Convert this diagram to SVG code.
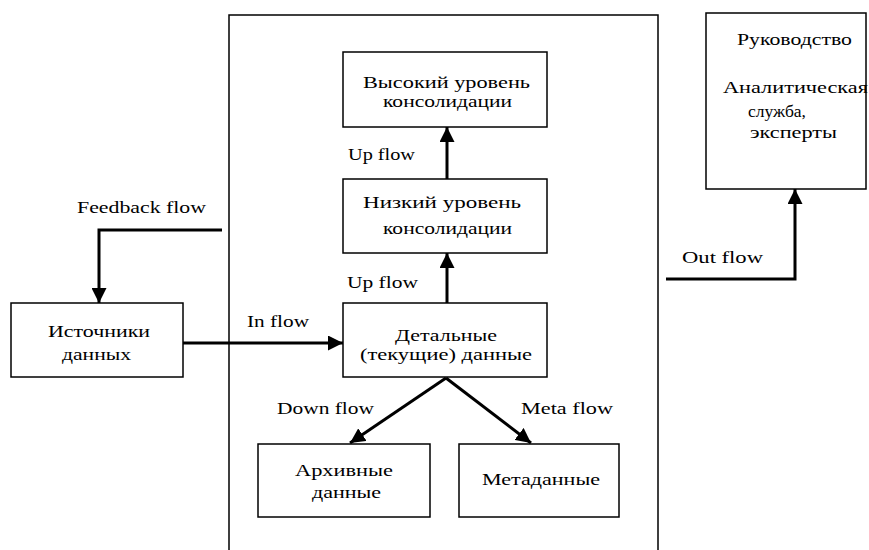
<svg xmlns="http://www.w3.org/2000/svg" width="869" height="550" viewBox="0 0 869 550">
<style>
.box{fill:#fff;stroke:#000;stroke-width:1.5}
.t{font-family:"Liberation Serif","Times New Roman",serif;font-size:16px;fill:#000}
.c{stroke:#000;stroke-width:3;fill:none}
</style>
<defs>
<marker id="ah" viewBox="0 0 10 10" refX="10" refY="5" markerWidth="5" markerHeight="5" orient="auto" markerUnits="strokeWidth">
<path d="M0,0 L10,5 L0,10 z" fill="#000"/>
</marker>
</defs>
<rect width="869" height="550" fill="#fff"/>
<g id="container">
<path d="M229,550 V15 H658 V550" fill="none" stroke="#000" stroke-width="1.5"/>
</g>
<g id="connectors">
<path class="c" d="M222,230 H99 V303" marker-end="url(#ah)"/>
<path class="c" d="M183,343 H343" marker-end="url(#ah)"/>
<path class="c" d="M447,303 V253" marker-end="url(#ah)"/>
<path class="c" d="M447,179 V127" marker-end="url(#ah)"/>
<path class="c" d="M446,378 L350,443" marker-end="url(#ah)"/>
<path class="c" d="M446,378 L531,443" marker-end="url(#ah)"/>
<path class="c" d="M666,279 H795 V189" marker-end="url(#ah)"/>
<text class="t" x="77" y="213" textLength="129" lengthAdjust="spacingAndGlyphs">Feedback flow</text>
<text class="t" x="247" y="327" textLength="62" lengthAdjust="spacingAndGlyphs">In flow</text>
<text class="t" x="348" y="160" textLength="67" lengthAdjust="spacingAndGlyphs">Up flow</text>
<text class="t" x="347" y="288" textLength="71" lengthAdjust="spacingAndGlyphs">Up flow</text>
<text class="t" x="277" y="414" textLength="97" lengthAdjust="spacingAndGlyphs">Down flow</text>
<text class="t" x="521" y="414" textLength="92" lengthAdjust="spacingAndGlyphs">Meta flow</text>
<text class="t" x="682" y="263" textLength="81" lengthAdjust="spacingAndGlyphs">Out flow</text>
</g>
<g id="sources">
<rect class="box" x="11" y="303" width="172" height="74"/>
<text class="t" x="48" y="337" textLength="102" lengthAdjust="spacingAndGlyphs">Источники</text>
<text class="t" x="62" y="360" textLength="69" lengthAdjust="spacingAndGlyphs">данных</text>
</g>
<g id="high">
<rect class="box" x="343" y="52" width="204" height="75"/>
<text class="t" x="363" y="88" textLength="167" lengthAdjust="spacingAndGlyphs">Высокий уровень</text>
<text class="t" x="383" y="107" textLength="129" lengthAdjust="spacingAndGlyphs">консолидации</text>
</g>
<g id="low">
<rect class="box" x="343" y="179" width="204" height="74"/>
<text class="t" x="363" y="208" textLength="158" lengthAdjust="spacingAndGlyphs">Низкий уровень</text>
<text class="t" x="383" y="234" textLength="129" lengthAdjust="spacingAndGlyphs">консолидации</text>
</g>
<g id="detail">
<rect class="box" x="343" y="303" width="204" height="74"/>
<text class="t" x="395" y="341" textLength="102" lengthAdjust="spacingAndGlyphs">Детальные</text>
<text class="t" x="360" y="360" textLength="172" lengthAdjust="spacingAndGlyphs">(текущие) данные</text>
</g>
<g id="archive">
<rect class="box" x="258" y="444" width="172" height="73"/>
<text class="t" x="295" y="476" textLength="98" lengthAdjust="spacingAndGlyphs">Архивные</text>
<text class="t" x="312" y="498" textLength="69" lengthAdjust="spacingAndGlyphs">данные</text>
</g>
<g id="meta">
<rect class="box" x="459" y="444" width="160" height="73"/>
<text class="t" x="482" y="485" textLength="118" lengthAdjust="spacingAndGlyphs">Метаданные</text>
</g>
<g id="management">
<rect class="box" x="706" y="13" width="160" height="176"/>
<text class="t" x="737" y="45" textLength="115" lengthAdjust="spacingAndGlyphs">Руководство</text>
<text class="t" x="723" y="93" textLength="145" lengthAdjust="spacingAndGlyphs">Аналитическая</text>
<text class="t" x="748" y="117" textLength="58" lengthAdjust="spacingAndGlyphs">служба,</text>
<text class="t" x="750" y="138" textLength="87" lengthAdjust="spacingAndGlyphs">эксперты</text>
</g>
</svg>
